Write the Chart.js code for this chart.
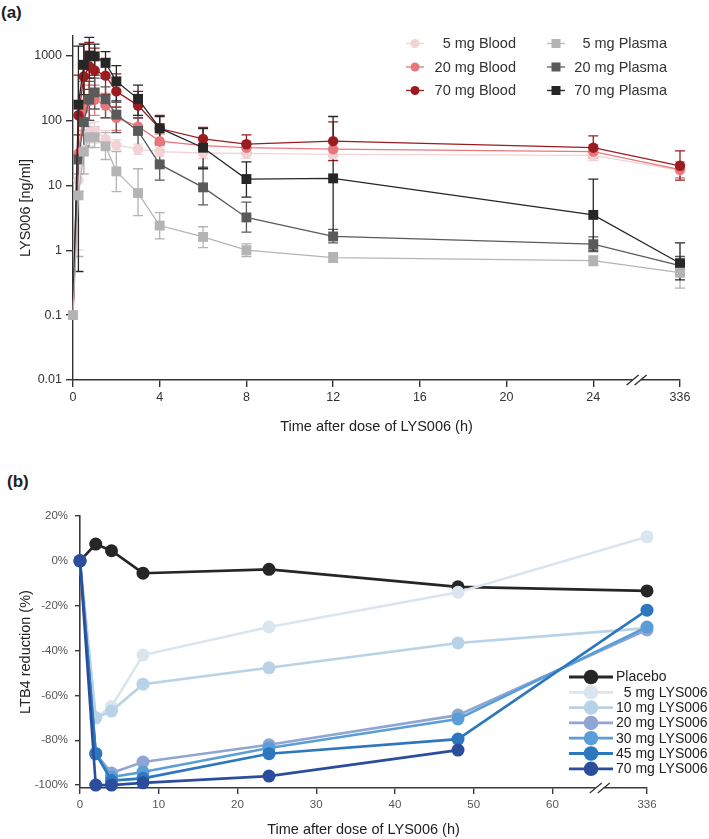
<!DOCTYPE html>
<html>
<head>
<meta charset="utf-8">
<script src="https://cdn.jsdelivr.net/npm/chart.js@4.4.1/dist/chart.umd.min.js"></script>
<style>
  html, body { margin: 0; padding: 0; background: #fff; }
  body { width: 709px; height: 839px; position: relative; overflow: hidden; font-family: "Liberation Sans", Arial, sans-serif; }
  .panel-label { position: absolute; font-weight: bold; font-size: 17px; color: #222; }
  #wrap-a { position: absolute; left: 0; top: 0; width: 709px; height: 445px; }
  #wrap-b { position: absolute; left: 0; top: 445px; width: 709px; height: 394px; }
</style>
</head>
<body>
<div class="panel-label" style="left:1px;top:3px">(a)</div>
<div class="panel-label" style="left:7px;top:472px">(b)</div>
<div id="wrap-a"><canvas id="pk-chart"></canvas></div>
<div id="wrap-b"><canvas id="ltb4-chart"></canvas></div>
<script>
// ---- (a) LYS006 concentrations, ng/ml ----
const pkTimes = [0, 0.25, 0.5, 0.75, 1, 1.5, 2, 3, 4, 6, 8, 12, 24, 336];
const pkTickPos = [0, 4, 8, 12, 16, 20, 24, 28];
const pkTickLabels = ['0', '4', '8', '12', '16', '20', '24', '336'];
const pkYTicks = [0.01, 0.1, 1, 10, 100, 1000];
const pkYTickLabels = ['0.01', '0.1', '1', '10', '100', '1000'];

const blood5 = [0.1, 12, 35, 65, 70, 52, 42, 36, 33, 31.5, 31, 30, 29, 17];
const blood20 = [0.1, 31, 150, 200, 210, 170, 110, 81, 48, 41, 38, 36, 33, 17.4];
const blood70 = [0.1, 120, 475, 680, 590, 490, 280, 170, 75, 52, 43, 48, 38, 20];
const plasma5 = [0.1, 7, 33, 55, 55, 40, 16.4, 7.6, 2.4, 1.6, 1.0, 0.77, 0.69, 0.45];
const plasma20 = [0.1, 25, 94, 210, 270, 212, 123, 69, 21, 9.3, 3.2, 1.63, 1.24, 0.58];
const plasma70 = [0.1, 175, 720, 1000, 970, 770, 400, 215, 76, 38, 12.5, 12.8, 3.5, 0.63];

// error bars as [lower, upper]
const blood5Err = [null, [1, 25], [15, 60], [40, 90], [45, 95], [38, 70], [35, 50], [30, 43], [28, 39], [26, 37], [26, 36], [25, 35], [24, 34], [13, 21]];
const blood20Err = [null, [15, 60], [60, 400], [100, 350], [120, 350], [110, 260], [70, 160], [60, 110], [35, 62], [32, 52], [30, 48], [28, 45], [26, 42], [13, 23]];
const blood70Err = [null, [30, 500], [170, 1500], [300, 1600], [250, 1300], [250, 900], [160, 520], [110, 280], [45, 120], [35, 78], [32, 60], [24, 95], [28, 58], [12, 34]];
const plasma5Err = [null, [0.8, 15], [15, 70], [38, 80], [38, 80], [25, 65], [8, 33], [3.4, 18], [1.5, 3.8], [1.1, 2.3], [0.8, 1.25], [0.65, 0.92], [0.58, 0.82], [0.26, 0.6]];
const plasma20Err = [null, [8, 60], [40, 200], [100, 400], [150, 450], [110, 330], [65, 190], [38, 110], [12, 42], [5, 19], [1.9, 5.5], [1.3, 2.1], [0.95, 1.6], [0.42, 0.8]];
const plasma70Err = [null, [0.47, 1400], [250, 1500], [450, 1900], [500, 1500], [450, 1150], [200, 700], [120, 350], [45, 115], [18, 75], [6.6, 23], [1.6, 115], [1.0, 12.5], [0.35, 1.3]];

// ---- (b) LTB4 reduction, % ----
const ltbTimes = [0, 2, 4, 8, 24, 48, 336];
const ltbTickPos = [0, 10, 20, 30, 40, 50, 60, 72];
const ltbTickLabels = ['0', '10', '20', '30', '40', '50', '60', '336'];
const ltbYTicks = [20, 0, -20, -40, -60, -80, -100];

const placebo = [0, 7.5, 4.5, -5.5, -3.8, -11.6, -13.4];
const lys5 = [0, -70, -65, -42, -29.5, -14, 10.7];
const lys10 = [0, -70, -67, -55, -47.7, -36.6, -30];
const lys20 = [0, -86, -94.6, -89.7, -82, -68.8, -30.8];
const lys30 = [0, -86, -96.4, -94.2, -83.5, -70.5, -29.5];
const lys45 = [0, -86, -98, -97, -86, -79.5, -22];
const lys70 = [0, -100, -100, -99, -96, -84.4, null];

const FONT = '"Liberation Sans", Arial, sans-serif';
Chart.defaults.font.family = FONT;

// broken time axes: 336 h is drawn right after the last regular tick
const pkPos = t => (t > 24 ? 28 : t);
const ltbPos = t => (t > 60 ? 72 : t);

const errorBarPlugin = {
    id: 'errorBars',
    beforeDatasetsDraw(chart) {
        const ctx = chart.ctx;
        const yScale = chart.scales.y;
        chart.data.datasets.forEach((ds, di) => {
            if (!ds.errorBars) return;
            const meta = chart.getDatasetMeta(di);
            ctx.save();
            ctx.strokeStyle = ds.borderColor;
            ctx.lineWidth = 1.3;
            ds.errorBars.forEach((e, i) => {
                if (!e) return;
                const x = meta.data[i].x;
                const y1 = yScale.getPixelForValue(e[0]);
                const y2 = yScale.getPixelForValue(e[1]);
                ctx.beginPath();
                ctx.moveTo(x, y1); ctx.lineTo(x, y2);
                ctx.moveTo(x - 5, y1); ctx.lineTo(x + 5, y1);
                ctx.moveTo(x - 5, y2); ctx.lineTo(x + 5, y2);
                ctx.stroke();
            });
            ctx.restore();
        });
    }
};

const axisBreakPlugin = {
    id: 'axisBreak',
    afterDraw(chart, args, opts) {
        if (opts.at == null) return;
        const ctx = chart.ctx;
        const x = chart.scales.x.getPixelForValue(opts.at);
        const y = chart.chartArea.bottom;
        ctx.save();
        ctx.fillStyle = '#fff';
        ctx.fillRect(x - 4, y - 2, 8, 4);
        ctx.strokeStyle = opts.color;
        ctx.lineWidth = 1.4;
        ctx.beginPath();
        [-4, 4].forEach(dx => {
            ctx.moveTo(x + dx - 6, y + 5);
            ctx.lineTo(x + dx + 6, y - 5);
        });
        ctx.stroke();
        ctx.restore();
    }
};

const sideLegendPlugin = {
    id: 'sideLegend',
    afterDatasetsDraw(chart, args, opts) {
        if (!opts.items) return;
        const ctx = chart.ctx;
        ctx.save();
        ctx.font = opts.font;
        ctx.textBaseline = 'middle';
        ctx.textAlign = opts.textAlign;
        opts.items.forEach(it => {
            const ds = chart.data.datasets[it.dataset];
            ctx.strokeStyle = ds.borderColor;
            ctx.lineWidth = opts.lineWidth;
            ctx.beginPath();
            ctx.moveTo(it.x - opts.lineHalf, it.y);
            ctx.lineTo(it.x + opts.lineHalf, it.y);
            ctx.stroke();
            ctx.fillStyle = ds.pointBackgroundColor;
            if (ds.pointStyle === 'rect') {
                ctx.fillRect(it.x - opts.box / 2, it.y - opts.box / 2, opts.box, opts.box);
            } else {
                ctx.beginPath();
                ctx.arc(it.x, it.y, opts.box / 2, 0, Math.PI * 2);
                ctx.fill();
            }
            ctx.fillStyle = opts.color;
            ctx.fillText(ds.label, it.textX, it.y + 0.5);
        });
        ctx.restore();
    }
};

// only the 5 mg plasma series shows its 0 h marker in the original
function pkSeries(label, values, errs, color, style, idx, showFirst) {
    const r = style === 'rect' ? 7 : 5.2;
    return {
        label: label,
        data: pkTimes.map((t, i) => ({ x: pkPos(t), y: values[i] })),
        errorBars: errs,
        borderColor: color,
        backgroundColor: color,
        pointBackgroundColor: color,
        pointBorderWidth: 0,
        pointStyle: style,
        pointRadius: pkTimes.map((t, i) => (i === 0 && !showFirst ? 0 : r)),
        borderWidth: 1.3,
        tension: 0,
        clip: false,
        order: -idx
    };
}

function ltbSeries(label, values, color, idx) {
    return {
        label: label,
        data: ltbTimes.map((t, i) => ({ x: ltbPos(t), y: values[i] })),
        borderColor: color,
        backgroundColor: color,
        pointBackgroundColor: color,
        pointBorderWidth: 0,
        pointStyle: 'circle',
        pointRadius: 6.5,
        borderWidth: 2.6,
        tension: 0,
        clip: false,
        order: -idx
    };
}

const axisColor = '#333';

new Chart(document.getElementById('pk-chart'), {
    type: 'line',
    data: {
        datasets: [
            pkSeries('5 mg Blood', blood5, blood5Err, '#f2d3d5', 'circle', 0, false),
            pkSeries('20 mg Blood', blood20, blood20Err, '#e8767b', 'circle', 1, false),
            pkSeries('70 mg Blood', blood70, blood70Err, '#9b1c20', 'circle', 2, false),
            pkSeries('5 mg Plasma', plasma5, plasma5Err, '#b4b4b4', 'rect', 6, true),
            pkSeries('20 mg Plasma', plasma20, plasma20Err, '#5a5a5a', 'rect', 4, false),
            pkSeries('70 mg Plasma', plasma70, plasma70Err, '#262626', 'rect', 5, false)
        ]
    },
    options: {
        responsive: true,
        maintainAspectRatio: false,
        animation: false,
        events: [],
        layout: { padding: { top: 36, right: 29, bottom: 0, left: 0 } },
        plugins: {
            legend: { display: false },
            tooltip: { enabled: false },
            axisBreak: { at: 26, color: axisColor },
            sideLegend: {
                font: '14.5px ' + FONT,
                color: '#333',
                textAlign: 'right',
                lineWidth: 1.3,
                lineHalf: 9,
                box: 9,
                items: [
                    { dataset: 0, x: 415, y: 43.5, textX: 516 },
                    { dataset: 1, x: 415, y: 67, textX: 516 },
                    { dataset: 2, x: 415, y: 90.5, textX: 516 },
                    { dataset: 3, x: 556, y: 43.5, textX: 667 },
                    { dataset: 4, x: 556, y: 67, textX: 667 },
                    { dataset: 5, x: 556, y: 90.5, textX: 667 }
                ]
            }
        },
        scales: {
            x: {
                type: 'linear',
                min: 0,
                max: 28,
                afterFit: s => { s.height = 65; },
                afterBuildTicks: s => { s.ticks = pkTickPos.map(v => ({ value: v })); },
                ticks: {
                    callback: (v, i) => pkTickLabels[i],
                    font: { size: 12.5 },
                    color: '#333',
                    padding: 3,
                    maxRotation: 0,
                    autoSkip: false
                },
                grid: { drawOnChartArea: false, drawTicks: true, tickLength: 7, color: axisColor, lineWidth: 1.4 },
                border: { display: true, color: axisColor, width: 1.4 },
                title: {
                    display: true,
                    text: 'Time after dose of LYS006 (h)',
                    font: { size: 14.5 },
                    color: '#222',
                    padding: { top: 0, bottom: 9 }
                }
            },
            y: {
                type: 'logarithmic',
                min: 0.01,
                max: 2000,
                afterFit: s => { s.width = 73; },
                afterBuildTicks: s => { s.ticks = pkYTicks.map(v => ({ value: v })); },
                ticks: {
                    callback: (v, i) => pkYTickLabels[i],
                    font: { size: 12.5 },
                    color: '#333',
                    padding: 4,
                    autoSkip: false
                },
                grid: { drawOnChartArea: false, drawTicks: true, tickLength: 7, color: axisColor, lineWidth: 1.4 },
                border: { display: true, color: axisColor, width: 1.4 },
                title: {
                    display: true,
                    text: 'LYS006 [ng/ml]',
                    font: { size: 14.5 },
                    color: '#222',
                    padding: { top: 17, bottom: 0 }
                }
            }
        }
    },
    plugins: [errorBarPlugin, axisBreakPlugin, sideLegendPlugin]
});

new Chart(document.getElementById('ltb4-chart'), {
    type: 'line',
    data: {
        datasets: [
            ltbSeries('Placebo', placebo, '#262626', 0),
            ltbSeries('\u20075 mg LYS006', lys5, '#dae5f0', 1),
            ltbSeries('10 mg LYS006', lys10, '#b8d2e8', 2),
            ltbSeries('20 mg LYS006', lys20, '#8fa6d5', 3),
            ltbSeries('30 mg LYS006', lys30, '#5b9dd6', 4),
            ltbSeries('45 mg LYS006', lys45, '#2c77bd', 5),
            ltbSeries('70 mg LYS006', lys70, '#2c4d9c', 6)
        ]
    },
    options: {
        responsive: true,
        maintainAspectRatio: false,
        animation: false,
        events: [],
        layout: { padding: { top: 71, right: 62, bottom: 0, left: 0 } },
        plugins: {
            legend: { display: false },
            tooltip: { enabled: false },
            axisBreak: { at: 66, color: '#3a3a3a' },
            sideLegend: {
                font: '14px ' + FONT,
                color: '#222',
                textAlign: 'left',
                lineWidth: 2.8,
                lineHalf: 22,
                box: 14.5,
                items: [0, 1, 2, 3, 4, 5, 6].map(i => ({ dataset: i, x: 591, y: 232 + i * 15.3, textX: 616 }))
            }
        },
        scales: {
            x: {
                type: 'linear',
                min: 0,
                max: 72,
                afterFit: s => { s.height = 51; },
                afterBuildTicks: s => { s.ticks = ltbTickPos.map(v => ({ value: v })); },
                ticks: {
                    callback: (v, i) => ltbTickLabels[i],
                    font: { size: 11.5 },
                    color: '#555',
                    padding: 4,
                    maxRotation: 0,
                    autoSkip: false
                },
                grid: { drawOnChartArea: false, drawTicks: true, tickLength: 6, color: '#3a3a3a', lineWidth: 1.4 },
                border: { display: true, color: '#3a3a3a', width: 1.6 },
                title: {
                    display: true,
                    text: 'Time after dose of LYS006 (h)',
                    font: { size: 14.5 },
                    color: '#222',
                    padding: { top: 0, bottom: 0 }
                }
            },
            y: {
                type: 'linear',
                min: -101.3,
                max: 20,
                afterFit: s => { s.width = 80; },
                afterBuildTicks: s => { s.ticks = ltbYTicks.map(v => ({ value: v })); },
                ticks: {
                    callback: v => v + '%',
                    font: { size: 11.5 },
                    color: '#555',
                    padding: 7,
                    autoSkip: false
                },
                grid: { drawOnChartArea: false, drawTicks: true, tickLength: 5, color: '#3a3a3a', lineWidth: 1.4 },
                border: { display: true, color: '#3a3a3a', width: 1.6 },
                title: {
                    display: true,
                    text: 'LTB4 reduction (%)',
                    font: { size: 14.5 },
                    color: '#222',
                    padding: { top: 17, bottom: 0 }
                }
            }
        }
    },
    plugins: [axisBreakPlugin, sideLegendPlugin]
});
</script>
</body>
</html>
